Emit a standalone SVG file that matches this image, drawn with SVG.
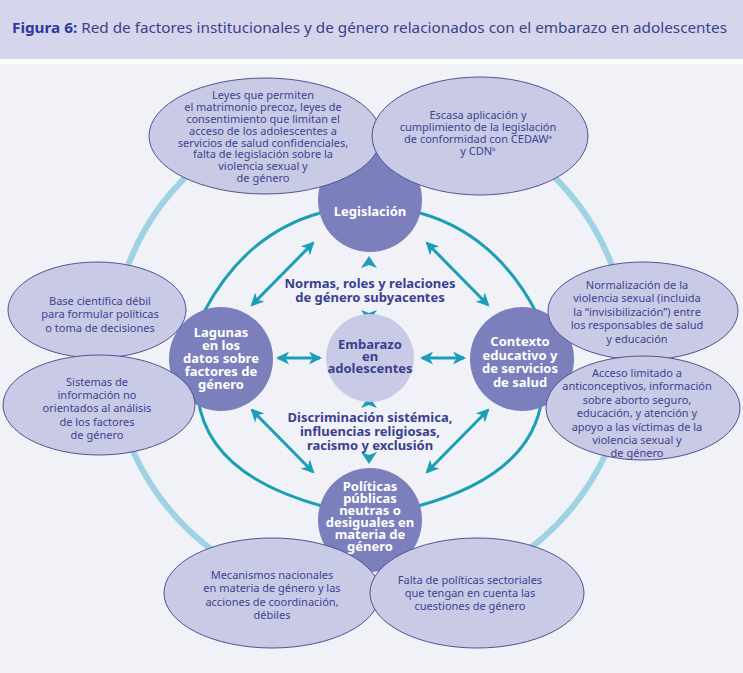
<svg xmlns="http://www.w3.org/2000/svg" width="743" height="673" viewBox="0 0 743 673">
<defs>
<style>
.ttl{font-family:"Noto Sans","Liberation Sans",sans-serif;font-size:15px;fill:#3b3f8c}
.ell{fill:#c9cae6;stroke:#4f5493;stroke-width:1}
.et{font-family:"Noto Sans","Liberation Sans",sans-serif;font-size:11px;fill:#3d4392;text-anchor:middle}
.node{fill:#7b7fbc}
.nt{font-family:"Noto Sans","Liberation Sans",sans-serif;font-size:13px;font-weight:bold;fill:#ffffff;text-anchor:middle}
.ct{font-family:"Noto Sans","Liberation Sans",sans-serif;font-size:13px;font-weight:bold;fill:#3a3f8f;text-anchor:middle}
.ring{fill:none;stroke:#1b9fb6;stroke-width:3}
.arr{fill:none;stroke:#1b9fb6;stroke-width:3;marker-start:url(#ah);marker-end:url(#ah)}
.head{fill:#1b9fb6}
</style>
<marker id="ah" viewBox="0 -7 14 14" refX="11" refY="0" markerWidth="14" markerHeight="14" markerUnits="userSpaceOnUse" orient="auto-start-reverse">
<path d="M0,-6.5 L13,0 L0,6.5 L3.5,0 Z" fill="#1b9fb6"/>
</marker>
</defs>
<rect x="0" y="0" width="743" height="673" fill="#ffffff"/>
<rect x="0" y="0" width="743" height="59" fill="#d5d5ec"/>
<rect x="0" y="64" width="743" height="609" fill="#f1f1f8"/>
<text class="ttl" x="12" y="33" textLength="715" lengthAdjust="spacingAndGlyphs"><tspan font-weight="bold" fill="#2c3a9c">Figura 6:</tspan> Red de factores institucionales y de género relacionados con el embarazo en adolescentes</text>

<g id="connectors">
<path d="M310,109 A258,250 0 1,0 430,109" fill="none" stroke="#9fd2e2" stroke-width="6"/>
<path class="ring" d="M320,213 Q245,234 204,312"/>
<path class="ring" d="M420,213 Q495,234 536,312"/>
<path class="ring" d="M198,398 Q208,475 322,506"/>
<path class="ring" d="M542,398 Q532,475 418,506"/>
<line class="arr" x1="252" y1="305" x2="313" y2="243"/>
<line class="arr" x1="488" y1="305" x2="427" y2="243"/>
<line class="arr" x1="252" y1="410" x2="313" y2="472"/>
<line class="arr" x1="488" y1="410" x2="427" y2="472"/>
<line class="arr" x1="278" y1="358" x2="320" y2="358"/>
<line class="arr" x1="422" y1="358" x2="464" y2="358"/>
<path class="head" d="M361,268 L369,256 L377,268 L369,265 Z"/>
<path class="head" d="M361,310 L369,322 L377,310 L369,313 Z"/>
<path class="head" d="M361,408 L369,396 L377,408 L369,405 Z"/>
<path class="head" d="M361,452 L369,464 L377,452 L369,455 Z"/>
</g>

<g id="n-center">
<circle cx="370" cy="358" r="44" fill="#c9cbe6"/>
<text class="ct" font-size="11" fill="#34399a"><tspan x="370" y="349">Embarazo</tspan><tspan x="370" y="361">en</tspan><tspan x="370" y="373">adolescentes</tspan></text>
</g>

<g id="lbl-normas">
<text class="ct"><tspan x="370" y="288">Normas, roles y relaciones</tspan><tspan x="370" y="302">de género subyacentes</tspan></text>
</g>
<g id="lbl-discriminacion">
<text class="ct"><tspan x="370" y="422">Discriminación sistémica,</tspan><tspan x="370" y="436">influencias religiosas,</tspan><tspan x="370" y="450">racismo y exclusión</tspan></text>
</g>

<g id="n-legislacion">
<circle class="node" cx="370" cy="200" r="52"/>
<text class="nt" x="370" y="216">Legislación</text>
</g>
<g id="n-lagunas">
<circle class="node" cx="221" cy="359" r="52"/>
<text class="nt"><tspan x="221" y="337">Lagunas</tspan><tspan x="221" y="350">en los</tspan><tspan x="221" y="363">datos sobre</tspan><tspan x="221" y="376">factores de</tspan><tspan x="221" y="389">género</tspan></text>
</g>
<g id="n-contexto">
<circle class="node" cx="522" cy="359" r="52"/>
<text class="nt"><tspan x="520" y="346">Contexto</tspan><tspan x="520" y="360">educativo y</tspan><tspan x="520" y="373">de servicios</tspan><tspan x="520" y="387">de salud</tspan></text>
</g>
<g id="n-politicas">
<circle class="node" cx="370" cy="520" r="52"/>
<text class="nt"><tspan x="370" y="491">Políticas</tspan><tspan x="370" y="503">públicas</tspan><tspan x="370" y="515">neutras o</tspan><tspan x="370" y="527">desiguales en</tspan><tspan x="370" y="539">materia de</tspan><tspan x="370" y="551">género</tspan></text>
</g>

<g id="e-leyes">
<ellipse class="ell" cx="265" cy="136" rx="116" ry="58"/>
<text class="et"><tspan x="263" y="99">Leyes que permiten</tspan><tspan x="263" y="111">el matrimonio precoz, leyes de</tspan><tspan x="263" y="123">consentimiento que limitan el</tspan><tspan x="263" y="135">acceso de los adolescentes a</tspan><tspan x="263" y="147">servicios de salud confidenciales,</tspan><tspan x="263" y="158">falta de legislación sobre la</tspan><tspan x="263" y="170">violencia sexual y</tspan><tspan x="263" y="182">de género</tspan></text>
</g>
<g id="e-escasa">
<ellipse class="ell" cx="480" cy="136" rx="108" ry="59"/>
<text class="et"><tspan x="478" y="119">Escasa aplicación y</tspan><tspan x="478" y="131">cumplimiento de la legislación</tspan><tspan x="478" y="143">de conformidad con CEDAW<tspan font-size="6" dy="-4">a</tspan></tspan><tspan x="478" y="155">y CDN<tspan font-size="6" dy="-4">b</tspan></tspan></text>
</g>
<g id="e-base">
<ellipse class="ell" cx="97" cy="310" rx="89" ry="48"/>
<text class="et"><tspan x="100" y="305">Base científica débil</tspan><tspan x="100" y="318">para formular políticas</tspan><tspan x="100" y="332">o toma de decisiones</tspan></text>
</g>
<g id="e-sistemas">
<ellipse class="ell" cx="99" cy="405" rx="96" ry="50"/>
<text class="et"><tspan x="97" y="386">Sistemas de</tspan><tspan x="97" y="399">información no</tspan><tspan x="97" y="412">orientados al análisis</tspan><tspan x="97" y="426">de los factores</tspan><tspan x="97" y="439">de género</tspan></text>
</g>
<g id="e-normalizacion">
<ellipse class="ell" cx="643" cy="311" rx="95" ry="49"/>
<text class="et"><tspan x="637" y="289">Normalización de la</tspan><tspan x="637" y="302">violencia sexual (incluida</tspan><tspan x="637" y="316">la “invisibilización”) entre</tspan><tspan x="637" y="329">los responsables de salud</tspan><tspan x="637" y="343">y educación</tspan></text>
</g>
<g id="e-acceso">
<ellipse class="ell" cx="643" cy="408" rx="97" ry="52"/>
<text class="et"><tspan x="637" y="377">Acceso limitado a</tspan><tspan x="637" y="390">anticonceptivos, información</tspan><tspan x="637" y="404">sobre aborto seguro,</tspan><tspan x="637" y="417">educación, y atención y</tspan><tspan x="637" y="431">apoyo a las víctimas de la</tspan><tspan x="637" y="444">violencia sexual y</tspan><tspan x="637" y="457">de género</tspan></text>
</g>
<g id="e-mecanismos">
<ellipse class="ell" cx="272" cy="593" rx="108" ry="55"/>
<text class="et"><tspan x="272" y="579">Mecanismos nacionales</tspan><tspan x="272" y="592">en materia de género y las</tspan><tspan x="272" y="606">acciones de coordinación,</tspan><tspan x="272" y="619">débiles</tspan></text>
</g>
<g id="e-falta">
<ellipse class="ell" cx="477" cy="593" rx="107" ry="55"/>
<text class="et"><tspan x="470" y="584">Falta de políticas sectoriales</tspan><tspan x="470" y="597">que tengan en cuenta las</tspan><tspan x="470" y="610">cuestiones de género</tspan></text>
</g>
</svg>
